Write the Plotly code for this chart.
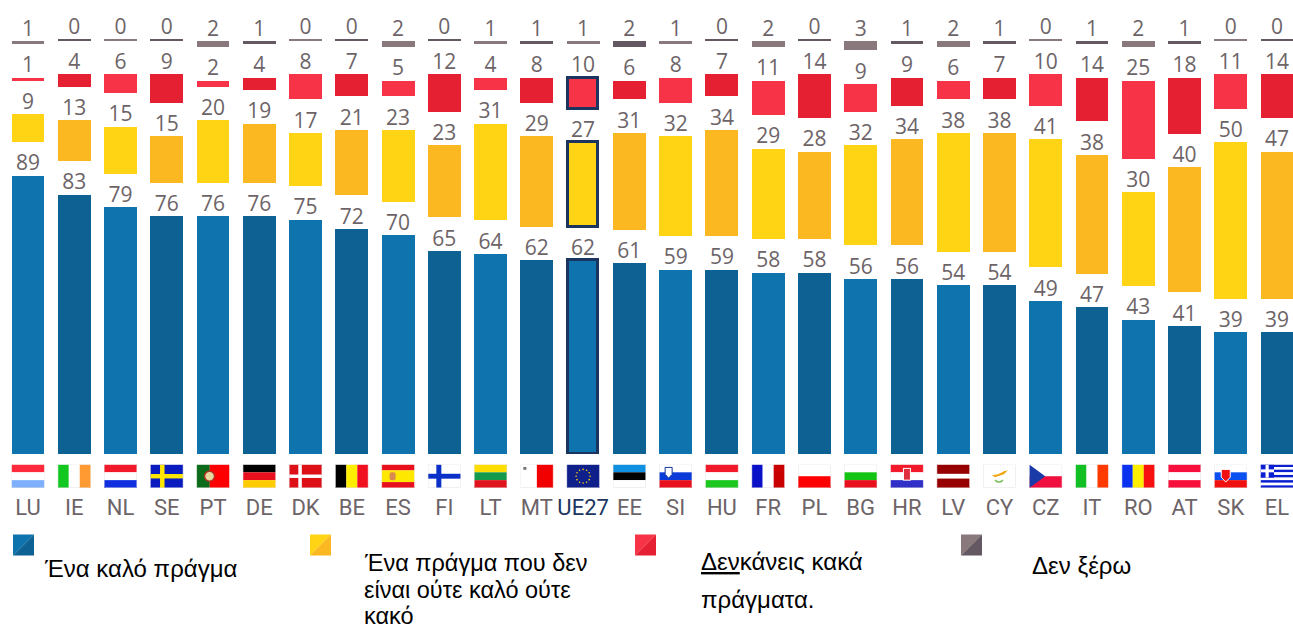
import base64
import plotly.graph_objects as go

countries = ["LU","IE","NL","SE","PT","DE","DK","BE","ES","FI","LT","MT","UE27","EE",
             "SI","HU","FR","PL","BG","HR","LV","CY","CZ","IT","RO","AT","SK","EL"]
good = [89,83,79,76,76,76,75,72,70,65,64,62,62,61,59,59,58,58,56,56,54,54,49,47,43,41,39,39]
neither = [9,13,15,15,20,19,17,21,23,23,31,29,27,31,32,34,29,28,32,34,38,38,41,38,30,40,50,47]
bad = [1,4,6,9,2,4,8,7,5,12,4,8,10,6,8,7,11,14,9,9,6,7,10,14,25,18,11,14]
dontknow = [1,0,0,0,2,1,0,0,2,0,1,1,1,2,1,0,2,0,3,1,2,1,0,1,2,1,0,0]

GAP = 10.7        # empty band between the stacked groups, in value units
ZERO_H = 0.4      # a zero is still drawn as a hairline
PX = 3.13
BASE_PX = 454.5
BAR_W = 0.71
EU = countries.index("UE27")
SLOT = 46.26
FIRST = 28

LIGHT = dict(good="#0f74ad", neither="#ffd415", bad="#f63347", dk="#8a797c")
DARK = dict(good="#0d6193", neither="#fbb820", bad="#e62033", dk="#645862")
TXT = "#6d6468"
NAVY = "#1b3560"


def svg(body):
    s = f'<svg xmlns="http://www.w3.org/2000/svg" viewBox="0 0 33 24" width="132" height="96" preserveAspectRatio="none">{body}<rect x="0.25" y="0.25" width="32.5" height="23.5" fill="none" stroke="#e2dedf" stroke-width="0.5"/></svg>'
    return "data:image/svg+xml;base64," + base64.b64encode(s.encode()).decode()


def h(*cols, weights=None):
    weights = weights or [1] * len(cols)
    tot, y, o = sum(weights), 0, ""
    for c, w in zip(cols, weights):
        hh = 24 * w / tot
        o += f'<rect x="0" y="{y}" width="33" height="{hh + 0.05}" fill="{c}"/>'
        y += hh
    return o


def v(*cols, weights=None):
    weights = weights or [1] * len(cols)
    tot, x, o = sum(weights), 0, ""
    for c, w in zip(cols, weights):
        ww = 33 * w / tot
        o += f'<rect x="{x}" y="0" width="{ww + 0.05}" height="24" fill="{c}"/>'
        x += ww
    return o


def cross(bg, fg, t=5, cx=12):
    return (f'<rect width="33" height="24" fill="{bg}"/>'
            f'<rect x="{cx - t / 2}" y="0" width="{t}" height="24" fill="{fg}"/>'
            f'<rect x="0" y="{12 - t / 2}" width="33" height="{t}" fill="{fg}"/>')


eu_stars = "".join(
    f'<circle cx="{16.5 + 7 * c}" cy="{12 + 7 * s}" r="0.8" fill="#ffd800"/>'
    for c, s in [(1, 0), (.87, .5), (.5, .87), (0, 1), (-.5, .87), (-.87, .5), (-1, 0),
                 (-.87, -.5), (-.5, -.87), (0, -1), (.5, -.87), (.87, -.5)])

greek = h("#0a1fd0", "#fff", "#0a1fd0", "#fff", "#0a1fd0", "#fff", "#0a1fd0", "#fff", "#0a1fd0") + \
    '<rect width="13.5" height="13.5" fill="#0a1fd0"/><rect x="5" width="3.2" height="13.5" fill="#fff"/><rect y="5" width="13.5" height="3" fill="#fff"/>'

flags = {
    "LU": h("#ff2a3c", "#fff", "#7fb0ff"),
    "IE": v("#12c820", "#fff", "#ff9a33"),
    "NL": h("#f21a2a", "#fff", "#1030e0"),
    "SE": cross("#0a1cc0", "#ffe600", 4.5, 12),
    "PT": v("#0b6b1a", "#ff0000", weights=[2, 3]) + '<circle cx="13" cy="12" r="5" fill="#e8d8a0" stroke="#b03020" stroke-width="1.5"/>',
    "DE": h("#000", "#e8101c", "#ffcc00"),
    "DK": cross("#dd1018", "#fff", 3.5, 11),
    "BE": v("#000", "#ffee00", "#f01020"),
    "ES": h("#e8101c", "#ffe800", "#e8101c", weights=[1, 2, 1]) + '<rect x="8" y="8" width="6" height="8" rx="2" fill="#d88a50"/>',
    "FI": cross("#fff", "#0a30c8", 5, 11),
    "LT": h("#ffdd00", "#149a4c", "#e0141c"),
    "MT": v("#fff", "#f20000") + '<rect x="3" y="2.5" width="3" height="3" fill="#777"/>',
    "UE27": '<rect width="33" height="24" fill="#10208a"/>' + eu_stars,
    "EE": h("#1090e0", "#000", "#fff"),
    "SI": h("#fff", "#0a3ad8", "#e8101c") + '<path d="M6 3h7v7l-3.5 4L6 10z" fill="#fff" stroke="#1030a0" stroke-width="1"/>',
    "HU": h("#f21a2a", "#fff", "#1cc820"),
    "FR": v("#0a10c8", "#fff", "#c80000"),
    "PL": h("#fff", "#ff0000"),
    "BG": h("#fff", "#14c414", "#e8101c"),
    "HR": h("#f21a2a", "#fff", "#3030c8") + '<rect x="13" y="4" width="7" height="12" fill="#e03040" stroke="#fff" stroke-width="1"/>',
    "LV": h("#960000", "#fff", "#960000", weights=[2, 1, 2]),
    "CY": '<rect width="33" height="24" fill="#fff"/><path d="M9 11 l6-1 6-3 4-1-4 4-6 2-3 1z" fill="#f0a818"/><path d="M12 16 q4 4 8 0" stroke="#7cc060" stroke-width="1.5" fill="none"/>',
    "CZ": h("#fff", "#f01040") + '<path d="M0 0 L16 12 L0 24 Z" fill="#1a3aa8"/>',
    "IT": v("#12c024", "#fff", "#ff3a00"),
    "RO": v("#0a30f0", "#ffee00", "#f81010"),
    "AT": h("#f8103c", "#fff", "#f8103c"),
    "SK": h("#fff", "#0a50f0", "#f01010") + '<path d="M7 5h9v8l-4.5 5L7 13z" fill="#f01010" stroke="#fff" stroke-width="1"/>',
    "EL": greek,
}

alt = lambda k: [LIGHT[k] if i % 2 == 0 else DARK[k] for i in range(len(countries))]

# Stack the groups, with an empty band between each group
base_good = [0] * len(countries)
base_neither = [g + GAP for g in good]
base_bad = [b + n + GAP for b, n in zip(base_neither, neither)]
base_dk = [b + n + GAP for b, n in zip(base_bad, bad)]
x = list(range(len(countries)))

fig = go.Figure()
series = [("Ένα καλό πράγμα", good, base_good, "good", True),
          ("Ένα πράγμα που δεν είναι ούτε καλό ούτε κακό", neither, base_neither, "neither", True),
          ("Δεν κάνεις κακά πράγματα.", bad, base_bad, "bad", True),
          ("Δεν ξέρω", dontknow, base_dk, "dk", False)]
for name, vals, base, key, outline in series:
    heights = [val if val > 0 else ZERO_H for val in vals]
    fig.add_trace(go.Bar(
        name=name, x=x, y=heights, base=base,
        width=[BAR_W - 0.065 if (i == EU and outline) else BAR_W for i in x],
        marker=dict(color=alt(key),
                    line=dict(color=[NAVY if (i == EU and outline) else "rgba(0,0,0,0)" for i in x],
                              width=[3 if (i == EU and outline) else 0 for i in x])),
        hoverinfo="skip", showlegend=False,
    ))
    fig.add_trace(go.Scatter(
        x=x, y=[b + he for b, he in zip(base, heights)], mode="text",
        text=[str(val) for val in vals], textposition="top center",
        textfont=dict(family="Open Sans", size=21, color=TXT),
        cliponaxis=False, hoverinfo="skip", showlegend=False,
    ))

H = 631
W = 1293


def py(p):
    return (H - p - 176.5) / (H - 176.5)


def pxx(p):
    return p / W


ticktext = [f'<span style="color:{NAVY}">{c}</span>' if c == "UE27" else c for c in countries]
images = [dict(source=svg(flags[c]), xref="paper", yref="paper", x=pxx(FIRST + SLOT * i), y=py(465),
               sizex=33 / W, sizey=23.5 / (H - 176.5),
               xanchor="center", yanchor="top", sizing="stretch", layer="above")
          for i, c in enumerate(countries)]

shapes = []
for sx, k in zip([13, 310, 635, 961], ["good", "neither", "bad", "dk"]):
    x0, x1, y0, y1 = pxx(sx), pxx(sx + 21), py(535), py(556)
    shapes.append(dict(type="path", xref="paper", yref="paper", line=dict(width=0), fillcolor=LIGHT[k],
                       path=f"M{x0},{y0}L{x1},{y0}L{x0},{y1}Z"))
    shapes.append(dict(type="path", xref="paper", yref="paper", line=dict(width=0), fillcolor=DARK[k],
                       path=f"M{x1},{y0}L{x1},{y1}L{x0},{y1}Z"))

legend_lines = [("Ένα καλό πράγμα", 42, 569, 24), ("Ένα πράγμα που δεν", 362, 564, 23.5),
                ("είναι ούτε καλό ούτε", 362, 590.5, 23.5), ("κακό", 362, 617, 23.5),
                ("<u>Δεν</u>κάνεις κακά", 699, 562, 24), ("πράγματα.", 699, 600, 24), ("Δεν ξέρω", 1030, 566, 24)]
annotations = [dict(text=t, x=pxx(lx), y=py(ly), xref="paper", yref="paper", xanchor="left", yanchor="middle",
                    showarrow=False, align="left", font=dict(family="Liberation Sans", size=fs, color="#000"))
               for t, lx, ly, fs in legend_lines]

fig.update_layout(
    width=W, height=H, autosize=False, barmode="overlay", bargap=0,
    margin=dict(l=0, r=0, t=0, b=176.5, pad=0),
    paper_bgcolor="#fff", plot_bgcolor="#fff", showlegend=False,
    xaxis=dict(range=[-FIRST / SLOT, (W - FIRST) / SLOT], tickmode="array", tickvals=x, ticktext=ticktext,
               ticks="outside", ticklen=34, tickcolor="rgba(0,0,0,0)", showgrid=False, zeroline=False, showline=False,
               tickfont=dict(family="Roboto", size=22, color=TXT), tickangle=0, automargin=False),
    yaxis=dict(range=[0, BASE_PX / PX], visible=False, fixedrange=True),
    images=images, shapes=shapes, annotations=annotations,
)

fig.write_html("out.html", post_script="document.body.style.margin='0';document.body.style.overflow='hidden';",
               config={"displayModeBar": False})
